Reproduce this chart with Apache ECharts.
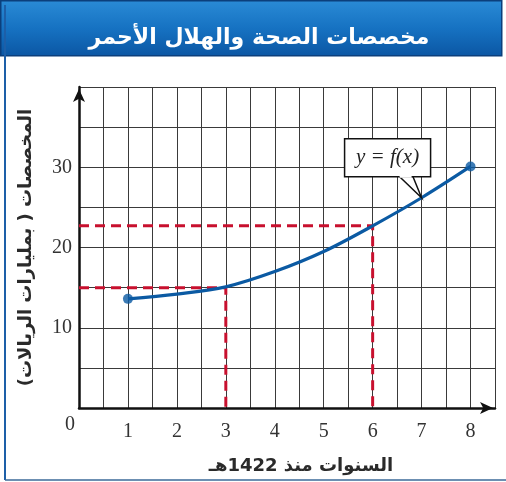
<!DOCTYPE html>
<html><head><meta charset="utf-8">
<script src="https://cdn.jsdelivr.net/npm/echarts@6/dist/echarts.min.js"></script>
<style>html,body{margin:0;padding:0;background:#fff}#c{width:506px;height:482px}</style>
</head><body><div id="c"></div>
<script>
const titleText = 'مخصصات الصحة والهلال الأحمر';
const xName = 'السنوات منذ 1422هـ';
const yName = 'المخصصات ( بمليارات الريالات)';
const curveData = [[1,13.6],[2,14.2],[3,15.1],[4,17.0],[5,19.5],[6,22.7],[7,26.2],[8,30.1]];
const endPoints = [[1,13.6],[8,30.1]];
const guideA = [[0,15],[3,15],[3,0]];
const guideB = [[0,22.7],[6,22.7],[6,0]];
const xTicks = [1,2,3,4,5,6,7,8];
const yTicks = [10,20,30];
const calloutAt = [7,26.2];

const chart = echarts.init(document.getElementById('c'));
const serif = '"Liberation Serif","DejaVu Serif",serif';
const arab = '"DejaVu Sans","Noto Sans",sans-serif';
const option = {
  backgroundColor:'#fff',
  animation:false,
  grid:{left:79,right:11,top:87,bottom:74},
  xAxis:{type:'value',min:0,max:8.5,interval:0.5,
    axisLine:{show:true,lineStyle:{color:'#111',width:2.5},symbol:['none','arrow'],symbolSize:[9,13],symbolOffset:[0,-2]},
    axisTick:{show:false},
    splitLine:{show:true,lineStyle:{color:'#3a3a3a',width:1}},
    axisLabel:{margin:14,fontFamily:serif,fontSize:20,color:'#333',
      formatter:v=>xTicks.indexOf(v)>=0?String(v):''}
  },
  yAxis:{type:'value',min:0,max:40,interval:5,
    axisLine:{show:true,lineStyle:{color:'#111',width:2.5},symbol:['none','arrow'],symbolSize:[9,13],symbolOffset:[0,-2]},
    axisTick:{show:false},
    splitLine:{show:true,lineStyle:{color:'#3a3a3a',width:1}},
    axisLabel:{margin:7,fontFamily:serif,fontSize:20,color:'#333',
      formatter:v=>yTicks.indexOf(v)>=0?String(v):''},
    name:yName,nameLocation:'middle',nameGap:44,nameRotate:90,
    nameTextStyle:{fontFamily:arab,fontWeight:'bold',fontSize:18,color:'#2a2a2a'}
  },
  series:[
    {type:'line',data:guideA,symbol:'none',lineStyle:{color:'#c8102e',width:3,type:[10,6]},z:3},
    {type:'line',data:guideB,symbol:'none',lineStyle:{color:'#c8102e',width:3,type:[10,6]},z:3},
    {type:'line',data:curveData,smooth:0.35,symbol:'none',lineStyle:{color:'#0b5aa3',width:3.2},z:4},
    {type:'scatter',data:endPoints,symbol:'circle',symbolSize:10,itemStyle:{color:'#0b5aa3'},z:5}
  ]
};
chart.setOption(option);

const tip = chart.convertToPixel({gridIndex:0}, calloutAt);
const o = chart.convertToPixel({gridIndex:0}, [0,0]);
const bx = tip[0]-77, by = tip[1]-59, bw = 86, bh = 38;
chart.setOption({graphic:[
  {type:'rect',left:0,top:0,shape:{x:5,y:5,width:501,height:55},
    style:{fill:new echarts.graphic.LinearGradient(0,0,0,1,[{offset:0,color:'#2a8bd6'},{offset:0.5,color:'#1672c2'},{offset:1,color:'#0b56a3'}]),stroke:'#0b3f7c',lineWidth:1.5}},
  {type:'text',x:259,y:38,style:{text:titleText,font:'bold 22px '+arab,fill:'#fff',align:'center',verticalAlign:'middle',
    shadowColor:'rgba(0,0,0,0.7)',shadowBlur:2,shadowOffsetX:1,shadowOffsetY:1.5}},
  {type:'line',shape:{x1:5,y1:5,x2:5,y2:480},style:{stroke:'#1d5fa8',lineWidth:2}},
  {type:'line',shape:{x1:5,y1:480,x2:506,y2:480},style:{stroke:'#3b6a98',lineWidth:1.5}},
  {type:'text',x:o[0]-9,y:o[1]+17,style:{text:'0',font:'20px '+serif,fill:'#333',align:'center',verticalAlign:'middle'}},
  {type:'text',x:301,y:466,style:{text:xName,font:'bold 18px '+arab,fill:'#2a2a2a',align:'center',verticalAlign:'middle'}},
  {type:'polygon',z:10,shape:{points:[[bx+54,by+bh-1],[tip[0],tip[1]],[bx+68,by+bh-1]]},style:{fill:'#fff',stroke:'#111',lineWidth:1.5}},
  {type:'rect',z:10,shape:{x:bx,y:by,width:bw,height:bh},style:{fill:'#fff',stroke:'#111',lineWidth:1.5}},
  {type:'line',z:11,shape:{x1:bx+55,y1:by+bh,x2:bx+67,y2:by+bh},style:{stroke:'#fff',lineWidth:2}},
  {type:'text',z:12,x:bx+bw/2,y:by+bh/2,style:{text:'y = f(x)',font:'italic 21px '+serif,fill:'#222',align:'center',verticalAlign:'middle'}}
]});
</script></body></html>
